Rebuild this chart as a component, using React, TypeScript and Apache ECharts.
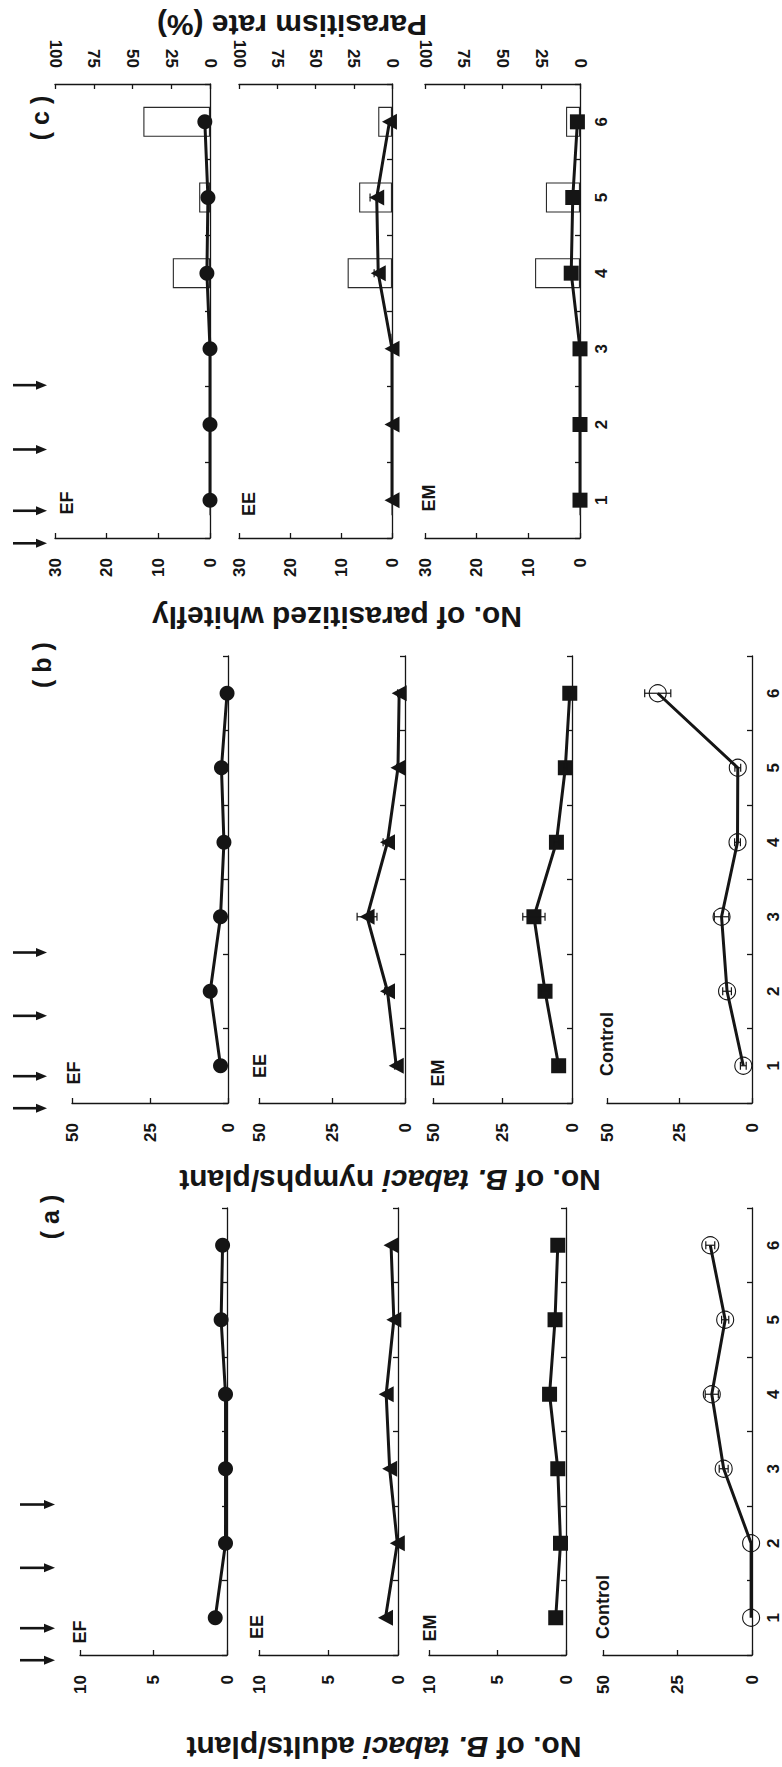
import React, { useEffect, useRef } from 'react';
import * as echarts from 'echarts';

const CATEGORIES = ['1', '2', '3', '4', '5', '6'];

// (a) No. of B. tabaci adults / plant
const adultsEF = [0.8, 0.1, 0.1, 0.1, 0.4, 0.3];
const adultsEE = [0.9, 0.05, 0.6, 0.85, 0.3, 0.5];
const adultsEM = [0.75, 0.4, 0.6, 1.2, 0.8, 0.6];
const adultsControl = [0.3, 0.3, 9.5, 13.5, 9, 14];
const adultsControlErr = [0, 0, 1.5, 2.2, 1.2, 1.5];

// (b) No. of B. tabaci nymphs / plant
const nymphsEF = [2.4, 5.7, 2.4, 1.3, 2.1, 0.3];
const nymphsEE = [3, 6, 13, 6, 2.4, 2];
const nymphsEEErr = [0.5, 1, 3.4, 1.5, 0.5, 0.5];
const nymphsEM = [4.8, 9.7, 13.7, 5.6, 2.4, 0.8];
const nymphsEMErr = [0.5, 1.5, 4, 0.8, 0.5, 0.5];
const nymphsControl = [3, 8.6, 10.5, 5, 4.9, 32.5];
const nymphsControlErr = [1, 1.5, 2.5, 1, 1, 4.5];

// (c) No. of parasitized whitefly and parasitism rate (%)
const parasitizedEF = [0, 0, 0, 0.6, 0.4, 1.0];
const parasitizedEE = [0, 0, 0, 2.7, 3.0, 0.5];
const parasitizedEEErr = [0, 0, 0, 0.8, 1.3, 0];
const parasitizedEM = [0, 0, 0, 1.7, 1.4, 0.5];
const rateEF = [0, 0, 0, 24, 7, 43];
const rateEE = [0, 0, 0, 29, 21.5, 9];
const rateEM = [0, 0, 0, 29, 22, 9];

// times of release / spray arrows (in category units)
const sprayTimes = [0.43, 0.86, 1.67, 2.52];

const FONT = '"Liberation Sans", Arial, sans-serif';
const INK = '#151515';

type Kind = 'EF' | 'EE' | 'EM' | 'Control';
type PanelDef = {
  row: 'a' | 'b' | 'c';
  kind: Kind;
  left: number;
  right: number;
  top: number;
  bottom: number;
  max: number;
  interval: number;
  values: number[];
  errs?: number[];
  rate?: number[];
  showCats: boolean;
  label: [number, number];
};

const ROW_A = { top: 1208, bottom: 1655 };
const ROW_B = { top: 656, bottom: 1103 };
const ROW_C = { top: 84, bottom: 538 };

const PANELS: PanelDef[] = [
  { row: 'c', kind: 'EF', left: 55, right: 210, ...ROW_C, max: 30, interval: 10, values: parasitizedEF, rate: rateEF, showCats: false, label: [67, 503] },
  { row: 'c', kind: 'EE', left: 239, right: 392, ...ROW_C, max: 30, interval: 10, values: parasitizedEE, errs: parasitizedEEErr, rate: rateEE, showCats: false, label: [249, 504] },
  { row: 'c', kind: 'EM', left: 425, right: 580, ...ROW_C, max: 30, interval: 10, values: parasitizedEM, rate: rateEM, showCats: true, label: [429, 498] },
  { row: 'b', kind: 'EF', left: 72, right: 228, ...ROW_B, max: 50, interval: 25, values: nymphsEF, showCats: false, label: [74, 1073] },
  { row: 'b', kind: 'EE', left: 259, right: 405, ...ROW_B, max: 50, interval: 25, values: nymphsEE, errs: nymphsEEErr, showCats: false, label: [260, 1066] },
  { row: 'b', kind: 'EM', left: 433, right: 572, ...ROW_B, max: 50, interval: 25, values: nymphsEM, errs: nymphsEMErr, showCats: false, label: [438, 1073] },
  { row: 'b', kind: 'Control', left: 607, right: 752, ...ROW_B, max: 50, interval: 25, values: nymphsControl, errs: nymphsControlErr, showCats: true, label: [607, 1044] },
  { row: 'a', kind: 'EF', left: 80, right: 227, ...ROW_A, max: 10, interval: 5, values: adultsEF, showCats: false, label: [80, 1632] },
  { row: 'a', kind: 'EE', left: 259, right: 398, ...ROW_A, max: 10, interval: 5, values: adultsEE, showCats: false, label: [257, 1627] },
  { row: 'a', kind: 'EM', left: 429, right: 566, ...ROW_A, max: 10, interval: 5, values: adultsEM, showCats: false, label: [430, 1628] },
  { row: 'a', kind: 'Control', left: 603, right: 756, ...ROW_A, max: 50, interval: 25, values: adultsControl, errs: adultsControlErr, showCats: true, label: [603, 1607] },
];

const MARKERS: Record<Kind, any> = {
  EF: { symbol: 'circle', symbolSize: 15, symbolRotate: 0, itemStyle: { color: INK } },
  EE: { symbol: 'triangle', symbolSize: [16, 15], symbolRotate: 90, itemStyle: { color: INK } },
  EM: { symbol: 'rect', symbolSize: 15, symbolRotate: 0, itemStyle: { color: INK } },
  Control: { symbol: 'circle', symbolSize: 17, symbolRotate: 0, itemStyle: { color: 'rgba(0,0,0,0)', borderColor: INK, borderWidth: 1.1 } },
};

const axisLineStyle = { color: INK, width: 1.3 };
const tickLabel = { fontSize: 17, fontWeight: 'bold' as const, color: INK, fontFamily: FONT };

function buildOption() {
  const grid: any[] = [];
  const xAxis: any[] = [];
  const yAxis: any[] = [];
  const series: any[] = [];
  const efYAxis: Record<string, number> = {};

  PANELS.forEach((p, g) => {
    grid.push({ left: p.left, top: p.top, width: p.right - p.left, height: p.bottom - p.top, containLabel: false });
    const xi = xAxis.length;
    xAxis.push({
      gridIndex: g, type: 'value', inverse: true, position: 'bottom', min: 0, max: p.max, interval: p.interval,
      axisLine: { show: true, onZero: false, lineStyle: axisLineStyle },
      axisTick: { show: true, inside: true, length: 5, lineStyle: axisLineStyle },
      axisLabel: { ...tickLabel, rotate: 90, margin: 20 },
      splitLine: { show: false },
    });
    let topXi = -1;
    if (p.rate) {
      topXi = xAxis.length;
      xAxis.push({
        gridIndex: g, type: 'value', inverse: true, position: 'top', min: 0, max: 100, interval: 25,
        axisLine: { show: true, onZero: false, lineStyle: axisLineStyle },
        axisTick: { show: true, inside: true, length: 5, lineStyle: axisLineStyle },
        axisLabel: { ...tickLabel, rotate: 90, margin: 16 },
        splitLine: { show: false },
      });
    }
    const yi = yAxis.length;
    if (p.kind === 'EF') efYAxis[p.row] = yi;
    yAxis.push({
      gridIndex: g, type: 'category', data: CATEGORIES, position: 'right', boundaryGap: true,
      axisLine: { show: true, onZero: false, lineStyle: axisLineStyle },
      axisTick: { show: true, inside: true, length: 5, alignWithLabel: false, lineStyle: axisLineStyle },
      axisLabel: { ...tickLabel, show: p.showCats, rotate: 90, margin: 13 },
      splitLine: { show: false },
    });

    if (p.rate) {
      series.push({
        type: 'bar', xAxisIndex: topXi, yAxisIndex: yi, barWidth: 30, z: 1, silent: true,
        data: p.rate.map((v, i) => [v, i]),
        itemStyle: { color: '#ffffff', borderColor: '#2a2a2a', borderWidth: 1.1 },
      });
    }
    const m = MARKERS[p.kind];
    series.push({
      type: 'line', xAxisIndex: xi, yAxisIndex: yi, z: 3, silent: true,
      data: p.values.map((v, i) => [v, i]),
      symbol: m.symbol, symbolSize: m.symbolSize, symbolRotate: m.symbolRotate,
      showAllSymbol: true,
      lineStyle: { color: INK, width: 3 },
      itemStyle: m.itemStyle,
    });
    if (p.errs) {
      series.push({
        type: 'custom', xAxisIndex: xi, yAxisIndex: yi, z: 4, silent: true,
        data: p.values.map((v, i) => [v, i, p.errs![i]]),
        encode: { x: 0, y: 1 },
        renderItem: (params: any, api: any) => {
          const v = api.value(0);
          const c = api.value(1);
          const e = api.value(2);
          if (!e) return null;
          const lo = api.coord([Math.max(0, v - e), c]);
          const hi = api.coord([v + e, c]);
          const h = 4;
          const st = { stroke: INK, lineWidth: 1.2 };
          return {
            type: 'group',
            children: [
              { type: 'line', shape: { x1: lo[0], y1: lo[1], x2: hi[0], y2: hi[1] }, style: st },
              { type: 'line', shape: { x1: lo[0], y1: lo[1] - h, x2: lo[0], y2: lo[1] + h }, style: st },
              { type: 'line', shape: { x1: hi[0], y1: hi[1] - h, x2: hi[0], y2: hi[1] + h }, style: st },
            ],
          };
        },
      });
    }
  });

  return { option: { animation: false, backgroundColor: '#ffffff', grid, xAxis, yAxis, series }, efYAxis };
}

const TITLES = [
  { parts: [['n', 'Parasitism rate (%)']], x: 292, y: 25 },
  { parts: [['n', 'No. of parasitized whitefly']], x: 337, y: 617 },
  { parts: [['n', 'No. of '], ['i', 'B. tabaci'], ['n', ' nymphs/plant']], x: 390, y: 1180 },
  { parts: [['n', 'No. of '], ['i', 'B. tabaci'], ['n', ' adults/plant']], x: 384, y: 1747 },
];

const ROW_LABELS = [
  { text: '( c )', x: 40, y: 118 },
  { text: '( b )', x: 42, y: 665 },
  { text: '( a )', x: 50, y: 1217 },
];

const ARROW_X: Record<string, [number, number]> = { a: [20, 55], b: [13, 47], c: [13, 47] };

export default function App() {
  const ref = useRef<HTMLDivElement>(null);
  useEffect(() => {
    if (!ref.current) return;
    const chart = echarts.init(ref.current, undefined, { renderer: 'svg' });
    const { option, efYAxis } = buildOption();
    chart.setOption(option);

    const graphic: any[] = [];
    const titleFont = { fontSize: 30, fontWeight: 'bold', fontFamily: FONT, fill: INK };
    TITLES.forEach((t) => {
      graphic.push({
        type: 'text', x: t.x, y: t.y, rotation: Math.PI, silent: true,
        style: {
          text: t.parts.map(([k, s]) => `{${k}|${s}}`).join(''),
          align: 'center', verticalAlign: 'middle',
          rich: {
            n: { ...titleFont },
            i: { ...titleFont, fontStyle: 'italic' },
          },
        },
      });
    });
    ROW_LABELS.forEach((l) => {
      graphic.push({
        type: 'text', x: l.x, y: l.y, rotation: Math.PI / 2, silent: true,
        style: { text: l.text, align: 'center', verticalAlign: 'middle', fontSize: 25, fontWeight: 'bold', fontFamily: FONT, fill: INK },
      });
    });
    PANELS.forEach((p) => {
      graphic.push({
        type: 'text', x: p.label[0], y: p.label[1], rotation: Math.PI / 2, silent: true,
        style: { text: p.kind, align: 'center', verticalAlign: 'middle', fontSize: 18, fontWeight: 'bold', fontFamily: FONT, fill: INK },
      });
    });
    (['a', 'b', 'c'] as const).forEach((row) => {
      const yi = efYAxis[row];
      const p0 = chart.convertToPixel({ yAxisIndex: yi } as any, 0) as unknown as number;
      const p1 = chart.convertToPixel({ yAxisIndex: yi } as any, 1) as unknown as number;
      const [x0, x1] = ARROW_X[row];
      sprayTimes.forEach((t) => {
        const y = p0 + (t - 1) * (p1 - p0);
        graphic.push({ type: 'line', silent: true, shape: { x1: x0, y1: y, x2: x1 - 8, y2: y }, style: { stroke: INK, lineWidth: 2.6 } });
        graphic.push({ type: 'polygon', silent: true, shape: { points: [[x1 - 11, y - 4.5], [x1, y], [x1 - 11, y + 4.5]] }, style: { fill: INK } });
      });
    });
    chart.setOption({ graphic });
    return () => chart.dispose();
  }, []);
  return <div ref={ref} style={{ position: 'absolute', left: 0, top: 0, width: 782, height: 1767, background: '#fff' }} />;
}
